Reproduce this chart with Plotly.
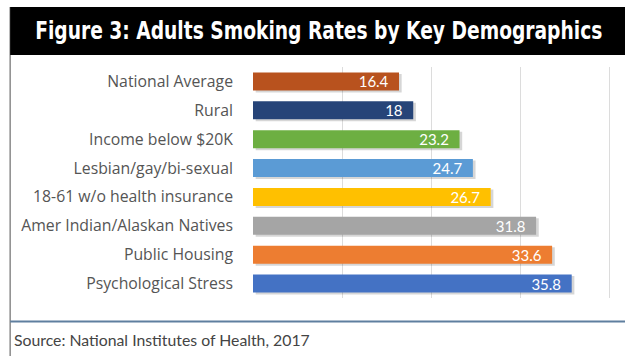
import plotly.graph_objects as go

# Smoking rates (%) by demographic group, top to bottom
categories = [
    "National Average",
    "Rural",
    "Income below $20K",
    "Lesbian/gay/bi-sexual",
    "18-61 w/o health insurance",
    "Amer Indian/Alaskan Natives",
    "Public Housing",
    "Psychological Stress",
]
rates = [16.4, 18, 23.2, 24.7, 26.7, 31.8, 33.6, 35.8]
bar_colors = ["#B8521E", "#264478", "#6DAF42", "#5B9BD5",
              "#FFC000", "#A5A5A5", "#ED7D31", "#4472C4"]
grid_ticks = [10, 20, 30, 40]

W, H = 625, 356
ML, MR, MT, MB = 252.5, 6.5, 67, 58
PW, PH = W - ML - MR, H - MT - MB


def px_x(p):
    return (p - ML) / PW


def px_y(p):
    return 1 - (p - MT) / PH


fig = go.Figure()

# soft drop shadow under each bar
fig.add_trace(go.Bar(
    y=categories, x=rates, base=0.3, orientation="h",
    width=0.64, offset=-0.26,
    marker=dict(color="rgba(0,0,0,0.16)", line=dict(width=0)),
    hoverinfo="skip", showlegend=False,
))

# value labels sit a little in from the bar end (trailing no-break spaces)
fig.add_trace(go.Bar(
    y=categories, x=rates, orientation="h",
    width=0.62, offset=-0.31,
    marker=dict(color=bar_colors, line=dict(width=0)),
    text=[f"{v:g}\u00a0\u00a0" for v in rates],
    textposition="inside", insidetextanchor="end",
    textangle=0, constraintext="none",
    textfont=dict(family="Lato, Open Sans, sans-serif", size=15, color="white"),
    cliponaxis=False, showlegend=False,
))

shapes = [
    # left frame rule
    dict(type="line", xref="paper", yref="paper",
         x0=px_x(9), x1=px_x(9), y0=px_y(7), y1=px_y(356),
         line=dict(color="#8a8a8a", width=1.5)),
    # title banner
    dict(type="rect", xref="paper", yref="paper",
         x0=px_x(9), x1=px_x(626), y0=px_y(7), y1=px_y(55),
         fillcolor="black", line=dict(width=0), layer="above"),
    # separator above the source line
    dict(type="line", xref="paper", yref="paper",
         x0=px_x(9), x1=px_x(626), y0=px_y(321.5), y1=px_y(321.5),
         line=dict(color="#5f7f9f", width=2)),
]

annotations = [
    dict(text="<b>Figure 3: Adults Smoking Rates by Key Demographics</b>",
         xref="paper", yref="paper", x=px_x(319), y=px_y(31),
         xanchor="center", yanchor="middle", showarrow=False,
         font=dict(family="DejaVu Sans Condensed, Roboto Condensed, sans-serif",
                   size=25, color="white")),
    dict(text="Source: National Institutes of Health, 2017",
         xref="paper", yref="paper", x=px_x(11), y=px_y(339),
         xanchor="left", yanchor="middle", showarrow=False,
         font=dict(family="Lato, Open Sans, sans-serif", size=15.8, color="#444444")),
]

fig.update_layout(
    width=W, height=H,
    margin=dict(l=ML, r=MR, t=MT, b=MB),
    paper_bgcolor="white", plot_bgcolor="white",
    barmode="overlay",
    shapes=shapes, annotations=annotations,
    xaxis=dict(range=[0, 41], tickvals=grid_ticks, showticklabels=False,
               showgrid=True, gridcolor="#dcdcdc", gridwidth=1,
               zeroline=False, showline=False, fixedrange=True),
    yaxis=dict(autorange="reversed", showgrid=False, zeroline=False,
               ticks="", ticklabelstandoff=19,
               tickfont=dict(family="Open Sans, Lato, sans-serif", size=15.8,
                             color="#555555"),
               fixedrange=True),
)

# squeeze the banner heading horizontally so it reads as a condensed face
squeeze_title = """
var t = document.querySelector('.annotation .annotation-text');
if (t) {
  t.style.transformBox = 'fill-box';
  t.style.transformOrigin = 'center';
  t.style.transform = 'scaleX(0.83)';
}
"""

fig.write_html("out.html", config={"displayModeBar": False},
               post_script=squeeze_title)
